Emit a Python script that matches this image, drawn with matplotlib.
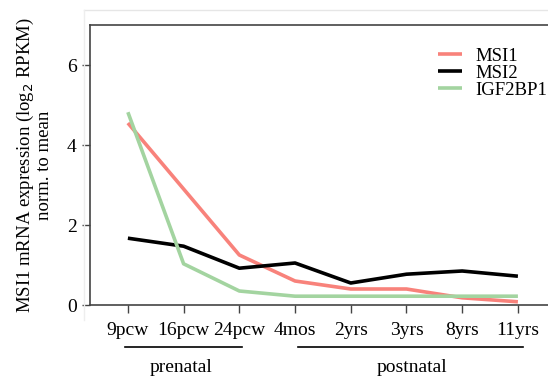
import matplotlib
matplotlib.use("Agg")
import matplotlib.pyplot as plt
from matplotlib.lines import Line2D

stages = ['9pcw', '16pcw', '24pcw', '4mos', '2yrs', '3yrs', '8yrs', '11yrs']
msi1 = [4.55, 2.9, 1.25, 0.6, 0.4, 0.4, 0.18, 0.08]
msi2 = [1.67, 1.47, 0.92, 1.05, 0.55, 0.77, 0.85, 0.72]
igf2bp1 = [4.82, 1.03, 0.35, 0.22, 0.22, 0.22, 0.22, 0.22]

plt.rcParams['font.family'] = ['Liberation Serif', 'DejaVu Serif']

fig = plt.figure(figsize=(5.48, 3.78), dpi=100)
# faint frame behind the plot
fig.add_artist(Line2D([84/548, 1], [1-10/378, 1-10/378], color='#e6e6e6', lw=1))
fig.add_artist(Line2D([84/548, 84/548], [1-10/378, 1-320/378], color='#eeeeee', lw=1))

ax = fig.add_axes([90/548, 1-305/378, (548-90)/548, (305-25)/378])
x = range(len(stages))
ax.plot(x, msi1, color='#f8827b', lw=2.6, label='MSI1', solid_capstyle='butt')
ax.plot(x, msi2, color='black', lw=2.6, label='MSI2', solid_capstyle='butt')
ax.plot(x, igf2bp1, color='#a3d4a0', lw=2.6, label='IGF2BP1', solid_capstyle='butt')

ax.set_ylim(0, 7)
ax.set_xlim(-0.68, 7.54)
ax.set_yticks([0, 2, 4, 6])
ax.set_xticks(list(x))
ax.set_xticklabels(stages)
ax.tick_params(labelsize=14, color='#444444', length=6, width=1)
ax.tick_params(axis='x', pad=6)
for s in ['left', 'top', 'bottom']:
    ax.spines[s].set_color('#444444')
    ax.spines[s].set_linewidth(1.2)
ax.spines['right'].set_visible(False)

ax.set_ylabel('MSI1 mRNA expression (log$_2$ RPKM)\nnorm. to mean', fontsize=13.5,
              linespacing=1.0, labelpad=10)

ax.legend(loc='upper right', bbox_to_anchor=(1.035, 0.98), frameon=False, fontsize=13.5,
          handlelength=1.3, handletextpad=0.7, labelspacing=0.0)

# period brackets under the axis
ax.plot([-0.05, 2.05], [-1.05, -1.05], color='black', lw=1.2, clip_on=False)
ax.plot([3.05, 7.1], [-1.05, -1.05], color='black', lw=1.2, clip_on=False)
ax.text(0.95, -1.55, 'prenatal', ha='center', va='center', fontsize=14)
ax.text(5.1, -1.57, 'postnatal', ha='center', va='center', fontsize=14)

fig.savefig('out.png', dpi=100)
